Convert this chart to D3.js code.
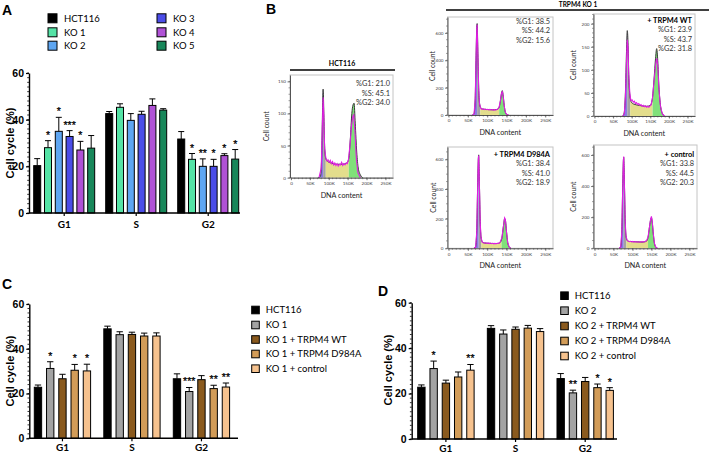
<!DOCTYPE html>
<html>
<head>
<meta charset="utf-8">
<script src="https://cdn.jsdelivr.net/npm/d3@7"></script>
<style>body{margin:0;background:#fff}</style>
</head>
<body>
<div id="container"></div>
<script>
// ---------- data ----------
const phases = ["G1", "S", "G2"];

// panel A
const seriesA = ["HCT116", "KO 1", "KO 2", "KO 3", "KO 4", "KO 5"];
const colorsA = ["#000000", "#55e3a6", "#5ea6f2", "#4b4de8", "#b052d6", "#18875a"];
const meanA = [[20.3, 42.6, 31.7], [28.0, 45.3, 23.0], [35.0, 39.7, 20.0], [32.8, 42.3, 20.0], [27.0, 46.1, 24.6], [27.8, 44.1, 23.1]];
const errA = [[3.0, 0.9, 3.2], [3.0, 1.5, 2.5], [6.0, 2.9, 3.2], [2.5, 1.3, 3.0], [3.7, 2.8, 0.8], [5.4, 0.6, 4.1]];
const starsA = [["", "", ""], ["*", "", "*"], ["*", "", "**"], ["***", "", "*"], ["*", "", "*"], ["", "", "*"]];

// panel C
const seriesC = ["HCT116", "KO 1", "KO 1 + TRPM4 WT", "KO 1 + TRPM4 D984A", "KO 1 + control"];
const meanC = [[22.8, 48.9, 26.6], [31.2, 46.3, 20.9], [26.6, 46.4, 26.2], [30.4, 45.7, 22.2], [30.1, 45.7, 22.9]];
const errC = [[1.0, 1.2, 2.2], [3.0, 1.3, 1.8], [2.0, 1.0, 1.8], [2.6, 1.3, 1.5], [3.0, 1.4, 1.8]];
const starsC = [["", "", ""], ["*", "", "***"], ["", "", ""], ["*", "", "**"], ["*", "", "**"]];

// panel D
const seriesD = ["HCT116", "KO 2", "KO 2 + TRPM4 WT", "KO 2 + TRPM4 D984A", "KO 2 + control"];
const meanD = [[22.8, 48.7, 26.6], [31.0, 46.2, 20.3], [24.6, 48.3, 25.3], [27.3, 48.8, 22.6], [30.3, 47.3, 21.4]];
const errD = [[1.0, 1.2, 2.2], [3.3, 1.8, 1.2], [1.3, 1.0, 1.8], [2.2, 1.2, 1.6], [2.5, 1.3, 1.2]];
const starsD = [["", "", ""], ["*", "", "**"], ["", "", ""], ["", "", "*"], ["**", "", "*"]];

const colorsCD = ["#000000", "#a3a3a3", "#8a5a1e", "#d29c58", "#f6c28e"];

// panel B histograms: [DNA content (K), cell count]
const histNames = ["", "", "+ TRPM4 WT", "+ TRPM4 D984A", "+ control"];
const pctG1 = [21.0, 38.5, 23.9, 38.4, 33.8];
const pctS = [45.1, 44.2, 43.7, 41.0, 44.5];
const pctG2 = [34.0, 15.6, 31.8, 18.9, 20.3];
// G1 apex, end of G1, start of G2 (K)
const cuts = [[85, 92, 153], [74, 82, 131], [88, 96, 156], [78, 85, 137], [77, 84, 141]];

const fitHCT = [[72,0],[78,2],[81,30],[83,90],[85,138],[87,100],[89,50],[92,30],[96,26],[105,23],[120,21],[135,21],[148,23],[153,30],[157,60],[161,100],[164,113],[167,116],[170,85],[174,40],[178,15],[184,4],[190,0]];
const traceHCT = [[74,0],[80,15],[83,80],[85,125],[87,95],[89,45],[92,32],[95,26],[98,28],[101,24],[104,27],[107,22],[110,25],[113,20],[116,23],[119,19],[122,22],[125,18],[128,21],[131,20],[134,24],[137,19],[140,22],[143,20],[146,23],[149,22],[152,28],[156,50],[160,80],[164,96],[166,98],[169,75],[173,30],[177,8],[184,0]];
const fitKO1 = [[62,0],[66,10],[69,120],[71,400],[73,640],[74,668],[76,450],[78,200],[80,90],[83,55],[88,44],[100,40],[115,38],[125,40],[130,50],[134,100],[137,160],[139,178],[141,150],[144,70],[147,20],[151,4],[155,0]];
const traceKO1 = [[62,0],[66,8],[69,110],[71,390],[73,630],[74,660],[76,440],[78,190],[80,85],[83,50],[86,42],[89,45],[92,40],[95,43],[98,39],[101,42],[104,38],[107,41],[110,37],[113,40],[116,36],[119,39],[122,37],[125,41],[128,45],[131,60],[134,105],[137,160],[139,170],[141,145],[144,65],[147,18],[151,3],[155,0]];
const fitWT = [[76,0],[80,8],[83,50],[86,140],[88,185],[90,160],[92,90],[95,45],[99,30],[105,26],[120,23],[140,21],[150,23],[155,35],[160,80],[164,125],[167,146],[170,120],[173,65],[177,25],[182,6],[188,0]];
const traceWT = [[76,0],[80,5],[83,40],[86,120],[88,165],[90,150],[92,90],[95,48],[98,33],[101,35],[104,30],[107,32],[110,27],[113,29],[116,25],[119,27],[122,23],[125,25],[128,21],[131,23],[134,20],[137,22],[140,19],[143,21],[146,19],[149,22],[152,24],[156,40],[160,75],[164,110],[167,125],[170,108],[173,60],[177,22],[182,5],[188,0]];
const fitD984A = [[66,0],[70,10],[73,120],[75,380],[77,600],[78,630],[80,420],[82,180],[84,80],[87,45],[92,36],[110,33],[125,32],[133,38],[138,70],[142,150],[145,200],[147,190],[150,110],[153,40],[157,8],[161,0]];
const traceD984A = [[66,0],[70,8],[73,110],[75,370],[77,600],[78,625],[80,410],[82,170],[84,75],[87,42],[90,38],[93,35],[96,37],[99,33],[102,36],[105,32],[108,35],[111,31],[114,34],[117,30],[120,33],[123,31],[126,34],[129,33],[133,40],[138,72],[142,150],[145,205],[147,195],[150,105],[153,38],[157,7],[161,0]];
const fitCtrl = [[65,0],[69,10],[72,120],[74,360],[76,560],[77,585],[79,400],[81,170],[83,80],[86,50],[92,44],[110,42],[125,40],[136,44],[141,70],[145,140],[148,185],[150,195],[152,170],[155,90],[158,30],[162,6],[166,0]];
const traceCtrl = [[65,0],[69,8],[72,110],[74,350],[76,560],[77,590],[79,390],[81,165],[83,78],[86,52],[89,46],[92,43],[95,45],[98,41],[101,44],[104,40],[107,43],[110,40],[113,42],[116,39],[119,42],[122,40],[125,43],[128,40],[131,42],[134,44],[138,55],[141,72],[145,140],[148,190],[150,205],[152,175],[155,90],[158,30],[162,5],[166,0]];

// ---------- drawing ----------
const svg = d3.select("#container").append("svg")
  .attr("width", 709).attr("height", 453);

const boldSans = "'Liberation Sans', Arial, sans-serif";
const soft = "Lato, 'Open Sans', sans-serif";

function letter(t, x, y) {
  svg.append("text").text(t).attr("x", x).attr("y", y)
    .attr("font-family", boldSans).attr("font-weight", "bold").attr("font-size", 14);
}

function barPanel(o) {
  const g = svg.append("g");
  const y = d3.scaleLinear().domain([0, 60]).range([o.y0, o.y1]);
  const x = d3.scaleBand().domain(phases).range(o.xr).paddingInner(o.padG);
  const xs = d3.scaleBand().domain(o.series).range([0, x.bandwidth()]).paddingInner(o.padS);

  o.series.forEach(function (s, i) {
    phases.forEach(function (p, j) {
      const m = o.mean[i][j], e = o.err[i][j];
      const bx = x(p) + xs(s), bw = xs.bandwidth(), cx = bx + bw / 2;
      g.append("line").attr("x1", cx).attr("x2", cx)
        .attr("y1", y(m)).attr("y2", y(m + e))
        .attr("stroke", "#000").attr("stroke-width", 1);
      g.append("line").attr("x1", cx - bw / 2 + 0.5).attr("x2", cx + bw / 2 - 0.5)
        .attr("y1", y(m + e)).attr("y2", y(m + e))
        .attr("stroke", "#000").attr("stroke-width", 1);
      g.append("rect").attr("x", bx).attr("y", y(m))
        .attr("width", bw).attr("height", y(0) - y(m))
        .attr("fill", o.colors[i]).attr("stroke", "#000").attr("stroke-width", 1);
      if (o.stars[i][j]) {
        g.append("text").text(o.stars[i][j])
          .attr("x", cx).attr("y", y(m + e) - 2)
          .attr("text-anchor", "middle").attr("fill", "#000")
          .attr("stroke", "#000").attr("stroke-width", 0.25)
          .attr("font-family", boldSans).attr("font-size", 10.5);
      }
    });
  });

  // y axis
  const ya = g.append("g").attr("transform", "translate(" + o.ax + ",0)")
    .call(d3.axisLeft(y).tickValues([0, 20, 40, 60]).tickSize(3).tickPadding(2).tickSizeOuter(0));
  ya.select(".domain").attr("stroke-width", 1.4);
  ya.selectAll(".tick line").attr("stroke-width", 1.2);
  ya.selectAll(".tick text").attr("font-family", boldSans).attr("font-weight", "bold")
    .attr("font-size", 10.5).attr("fill", "#000");
  g.append("g").selectAll("line").data(y.ticks(30)).enter().append("line")
    .attr("x1", o.ax - 1.8).attr("x2", o.ax).attr("y1", d => y(d)).attr("y2", d => y(d))
    .attr("stroke", "#000").attr("stroke-width", 0.8);

  // x axis
  g.append("line").attr("x1", o.ax).attr("x2", o.xEnd).attr("y1", y(0)).attr("y2", y(0))
    .attr("stroke", "#000").attr("stroke-width", 1.4);
  phases.forEach(function (p) {
    const cx = x(p) + x.bandwidth() / 2;
    g.append("line").attr("x1", cx).attr("x2", cx).attr("y1", y(0)).attr("y2", y(0) + 3)
      .attr("stroke", "#000").attr("stroke-width", 1.2);
    g.append("text").text(p).attr("x", cx).attr("y", o.labY)
      .attr("text-anchor", "middle").attr("font-family", soft).attr("font-weight", "bold")
      .attr("font-size", 10);
  });

  g.append("text").text("Cell cycle (%)")
    .attr("transform", "translate(" + o.titX + "," + o.titY + ") rotate(-90)")
    .attr("text-anchor", "middle").attr("dy", "0.35em")
    .attr("font-family", boldSans).attr("font-weight", "bold").attr("font-size", 11);

  // legend
  o.legend.forEach(function (L, i) {
    g.append("rect").attr("x", L[0]).attr("y", L[1] - o.sq / 2)
      .attr("width", o.sq).attr("height", o.sq)
      .attr("fill", o.colors[i]).attr("stroke", "#000").attr("stroke-width", 1);
    g.append("text").text(o.series[i]).attr("x", L[0] + o.sq + o.gap).attr("y", L[1])
      .attr("dy", "0.36em").attr("font-family", soft).attr("font-size", o.legSize);
  });
}

letter("A", 2, 15);
barPanel({
  series: seriesA, colors: colorsA, mean: meanA, err: errA, stars: starsA,
  ax: 29, y0: 213, y1: 73, xr: [33.7, 238.7], padG: 0.153, padS: 0.35, xEnd: 240,
  labY: 228, titX: 10, titY: 143,
  legend: [[48, 18.3], [48, 32.3], [48, 45.7], [157, 18.3], [157, 32.3], [157, 45.7]],
  sq: 9, gap: 7, legSize: 9.5
});

letter("C", 2, 289);
barPanel({
  series: seriesC, colors: colorsCD, mean: meanC, err: errC, stars: starsC,
  ax: 29.3, y0: 438.3, y1: 304, xr: [34.3, 229.6], padG: 0.19, padS: 0.4, xEnd: 238,
  labY: 451, titX: 10, titY: 371,
  legend: [[251.7, 310], [251.7, 325], [251.7, 339.5], [251.7, 354], [251.7, 368.7]],
  sq: 7.6, gap: 6.5, legSize: 9.5
});

letter("D", 378, 296);
barPanel({
  series: seriesD, colors: colorsCD, mean: meanD, err: errD, stars: starsD,
  ax: 411.7, y0: 439, y1: 302.7, xr: [417.7, 613.4], padG: 0.19, padS: 0.4, xEnd: 617,
  labY: 451.5, titX: 388.5, titY: 370,
  legend: [[560.7, 295.7], [560.7, 310.7], [560.7, 326], [560.7, 341], [560.7, 356]],
  sq: 7.6, gap: 6.5, legSize: 9.5
});

// ---------- panel B ----------
letter("B", 266, 14);

const hists = [
  { fit: fitHCT, trace: traceHCT, box: [290, 75, 393, 177.7], yMax: 160, yTicks: [0, 50, 100, 150], minor: 10, first: 86, cc: 21 },
  { fit: fitKO1, trace: traceKO1, box: [447.5, 17, 553, 115], yMax: 716, yTicks: [0, 200, 400, 600], minor: 50, first: 23.5, cc: 12.5 },
  { fit: fitWT, trace: traceWT, box: [593.5, 14, 695, 116], yMax: 221, yTicks: [0, 50, 100, 150, 200], minor: 10, first: 22.5, cc: 18 },
  { fit: fitD984A, trace: traceD984A, box: [447.5, 147, 553, 248.3], yMax: 683, yTicks: [0, 200, 400, 600], minor: 50, first: 156.5, cc: 12 },
  { fit: fitCtrl, trace: traceCtrl, box: [593.5, 145, 697, 248.3], yMax: 664, yTicks: [0, 200, 400, 600], minor: 50, first: 156.5, cc: 18 }
];
const phaseFill = ["#8b7be3", "#a3a3a3", "#e3dd8c", "#80e07a"];

hists.forEach(function (h, k) {
  const g = svg.append("g");
  const [x0, y0, x1, y1] = h.box;
  const x = d3.scaleLinear().domain([0, 270]).range([x0 + 1, x1]);
  const y = d3.scaleLinear().domain([0, h.yMax]).range([y1, y0]);

  // frame
  g.append("rect").attr("x", x0).attr("y", y0).attr("width", x1 - x0).attr("height", y1 - y0)
    .attr("fill", "none").attr("stroke", "#c4c4c4").attr("stroke-width", 1);

  // phase fills
  const edges = [0].concat(cuts[k]).concat([270]);
  const area = d3.area().x(d => x(d[0])).y0(y(0)).y1(d => y(d[1])).curve(d3.curveMonotoneX);
  for (let i = 0; i < 4; i++) {
    const id = "clip" + k + "_" + i;
    g.append("clipPath").attr("id", id).append("rect")
      .attr("x", x(edges[i])).attr("y", y0).attr("width", x(edges[i + 1]) - x(edges[i]))
      .attr("height", y1 - y0);
    g.append("path").datum(h.fit).attr("d", area)
      .attr("fill", phaseFill[i]).attr("clip-path", "url(#" + id + ")");
  }

  g.append("path").datum(h.fit)
    .attr("d", d3.line().x(d => x(d[0])).y(d => y(d[1])).curve(d3.curveMonotoneX))
    .attr("fill", "none").attr("stroke", "#3a3a3a").attr("stroke-width", 1);
  g.append("path").datum(h.trace)
    .attr("d", d3.line().x(d => x(d[0])).y(d => y(d[1])))
    .attr("fill", "none").attr("stroke", "#e01ee3").attr("stroke-width", 1.1);

  // axes
  const xa = g.append("g").attr("transform", "translate(0," + y1 + ")")
    .call(d3.axisBottom(x).tickValues([0, 50, 100, 150, 200, 250])
      .tickFormat(d => d ? d + "K" : "0").tickSize(2.5).tickPadding(1.5).tickSizeOuter(0));
  const ya = g.append("g").attr("transform", "translate(" + x0 + ",0)")
    .call(d3.axisLeft(y).tickValues(h.yTicks).tickSize(2.5).tickPadding(1.5).tickSizeOuter(0));
  [xa, ya].forEach(function (a) {
    a.select(".domain").attr("stroke", "#444").attr("stroke-width", 0.9);
    a.selectAll(".tick line").attr("stroke", "#444").attr("stroke-width", 0.7);
    a.selectAll(".tick text").attr("font-family", soft).attr("font-size", 4.6).attr("fill", "#444");
  });
  g.append("g").selectAll("line").data(d3.range(0, 270, 10)).enter().append("line")
    .attr("x1", d => x(d)).attr("x2", d => x(d)).attr("y1", y1).attr("y2", y1 + 1.5)
    .attr("stroke", "#444").attr("stroke-width", 0.5);
  g.append("g").selectAll("line").data(d3.range(0, h.yMax, h.minor)).enter().append("line")
    .attr("x1", x0 - 1.5).attr("x2", x0).attr("y1", d => y(d)).attr("y2", d => y(d))
    .attr("stroke", "#444").attr("stroke-width", 0.5);

  g.append("text").text("DNA content").attr("x", (x0 + x1) / 2).attr("y", y1 + 20)
    .attr("text-anchor", "middle").attr("font-family", soft).attr("font-size", 7.2).attr("fill", "#222");
  g.append("text").text("Cell count")
    .attr("transform", "translate(" + (x0 - h.cc) + "," + ((y0 + y1) / 2) + ") rotate(-90)")
    .attr("text-anchor", "middle").attr("font-family", soft).attr("font-size", 6.8).attr("fill", "#222");

  // labels
  let lines = [];
  if (histNames[k]) lines.push([histNames[k], true]);
  lines.push(["%G1: " + pctG1[k].toFixed(1), false]);
  lines.push(["%S: " + pctS[k].toFixed(1), false]);
  lines.push(["%G2: " + pctG2[k].toFixed(1), false]);
  lines.forEach(function (L, i) {
    g.append("text").text(L[0]).attr("x", x1 - 3).attr("y", h.first + i * 9.6)
      .attr("text-anchor", "end").attr("font-family", soft).attr("font-size", 7.4)
      .attr("font-weight", L[1] ? "bold" : "normal").attr("fill", L[1] ? "#000" : "#333");
  });
});

// group titles
svg.append("text").text("HCT116").attr("x", 342).attr("y", 66)
  .attr("text-anchor", "middle").attr("font-family", soft).attr("font-weight", "bold").attr("font-size", 7);
svg.append("line").attr("x1", 290).attr("x2", 395).attr("y1", 70).attr("y2", 70)
  .attr("stroke", "#000").attr("stroke-width", 1.5);
svg.append("text").text("TRPM4 KO 1").attr("x", 578).attr("y", 6.5)
  .attr("text-anchor", "middle").attr("font-family", soft).attr("font-weight", "bold").attr("font-size", 6.5);
svg.append("line").attr("x1", 446).attr("x2", 709).attr("y1", 10).attr("y2", 10)
  .attr("stroke", "#000").attr("stroke-width", 1.5);
</script>
</body>
</html>
